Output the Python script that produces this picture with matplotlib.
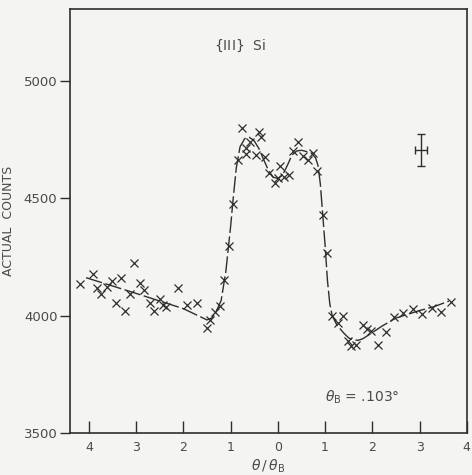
import numpy as np
import matplotlib
matplotlib.use("Agg")
import matplotlib.pyplot as plt

# measured points (theta / theta_B, counts)
theta = [-4.18, -3.92, -3.82, -3.75, -3.61, -3.52, -3.43, -3.33, -3.23, -3.13,
         -3.04, -2.92, -2.83, -2.71, -2.62, -2.50, -2.43, -2.36, -2.11, -1.92,
         -1.71, -1.51, -1.43, -1.33, -1.22, -1.14, -1.04, -0.95, -0.85, -0.75,
         -0.67, -0.58, -0.67, -0.47, -0.39, -0.35, -0.28, -0.19, -0.07, 0.04,
         0.00, 0.14, 0.23, 0.32, 0.42, 0.53, 0.63, 0.74, 0.83, 0.95,
         1.04, 1.15, 1.27, 1.37, 1.48, 1.55, 1.65, 1.80, 1.88, 1.97,
         2.11, 2.29, 2.46, 2.65, 2.87, 3.06, 3.26, 3.45, 3.66]
counts = [4134, 4177, 4116, 4092, 4124, 4148, 4054, 4160, 4018, 4092,
          4223, 4138, 4109, 4056, 4018, 4071, 4045, 4035, 4116, 4047,
          4054, 3948, 3983, 4017, 4040, 4151, 4299, 4476, 4664, 4801,
          4715, 4742, 4687, 4685, 4781, 4763, 4678, 4610, 4565, 4636,
          4586, 4590, 4598, 4703, 4739, 4680, 4665, 4692, 4618, 4430,
          4268, 4000, 3968, 3997, 3891, 3869, 3873, 3962, 3944, 3934,
          3877, 3929, 3996, 4011, 4028, 4007, 4031, 4014, 4059]

# hand-drawn fit curve
curve_x = [-4.06, -3.0, -2.0, -1.50, -1.40, -1.30, -1.20, -1.10, -1.00, -0.95,
           -0.88, -0.80, -0.70, -0.60, -0.50, -0.40, -0.30, -0.20, -0.10, 0.00,
           0.10, 0.20, 0.30, 0.40, 0.50, 0.60, 0.70, 0.80, 0.85, 0.90,
           0.95, 1.00, 1.05, 1.10, 1.15, 1.25, 1.40, 1.50, 1.60, 1.70,
           1.80, 2.00, 2.20, 2.50, 3.00, 3.30, 3.62]
curve_y = [4162, 4095, 4030, 3982, 3990, 4020, 4065, 4190, 4380, 4490,
           4630, 4720, 4755, 4760, 4745, 4712, 4665, 4620, 4590, 4585,
           4600, 4640, 4685, 4702, 4705, 4700, 4695, 4672, 4640, 4560,
           4430, 4300, 4150, 4050, 4000, 3960, 3925, 3905, 3897, 3895,
           3902, 3928, 3955, 3990, 4022, 4038, 4062]

err_x, err_y, err_dx, err_dy = 3.03, 4706, 0.12, 70

xticks = [-4, -3, -2, -1, 0, 1, 2, 3, 4]
xtick_labels = ["4", "3", "2", "1", "0", "1", "2", "3", "4"]
yticks = [3500, 4000, 4500, 5000]

ink = "#2e2e2e"
txt = "#4a4a4a"
bg = "#f4f4f2"

fig = plt.figure(figsize=(4.72, 4.75), dpi=100, facecolor=bg)
ax = fig.add_axes([0.1483, 0.0884, 0.8407, 0.8926], facecolor=bg)

ax.plot(curve_x, curve_y, color=ink, lw=1.0, linestyle=(0, (12, 2.5)))
ax.plot(theta, counts, linestyle="none", marker="x", markersize=5.5,
        markeredgewidth=0.9, color=ink)
ax.errorbar([err_x], [err_y], xerr=[err_dx], yerr=[err_dy], fmt="none",
            ecolor=ink, elinewidth=1.0, capsize=3, capthick=1.0)

ax.set_xlim(-4.4, 4.0)
ax.set_ylim(3500, 5307)
ax.set_xticks(xticks)
ax.set_xticklabels(xtick_labels)
ax.set_yticks(yticks)

ax.tick_params(axis="x", direction="in", length=9, width=1.0, color=ink,
               labelcolor=txt, labelsize=9, pad=6)
ax.tick_params(axis="y", direction="out", length=7, width=1.0, color=ink,
               labelcolor=txt, labelsize=9.5, pad=2)
for s in ax.spines.values():
    s.set_color(ink)
    s.set_linewidth(1.2)

ax.set_xlabel(r"$\theta\,/\,\theta_{\rm B}$", fontsize=10, color=txt, labelpad=2)
ax.set_ylabel("ACTUAL  COUNTS", fontsize=9, color=txt)
ax.yaxis.set_label_coords(-0.138, 0.5)

ax.text(-0.81, 5151, r"$\{$III$\}$  Si", fontsize=10, color=txt,
        ha="center", va="center")
ax.text(0.99, 3654, r"$\theta_{\rm B}$ = .103°", fontsize=10, color=txt,
        ha="left", va="center")

fig.savefig("out.png", dpi=100, facecolor=bg)
